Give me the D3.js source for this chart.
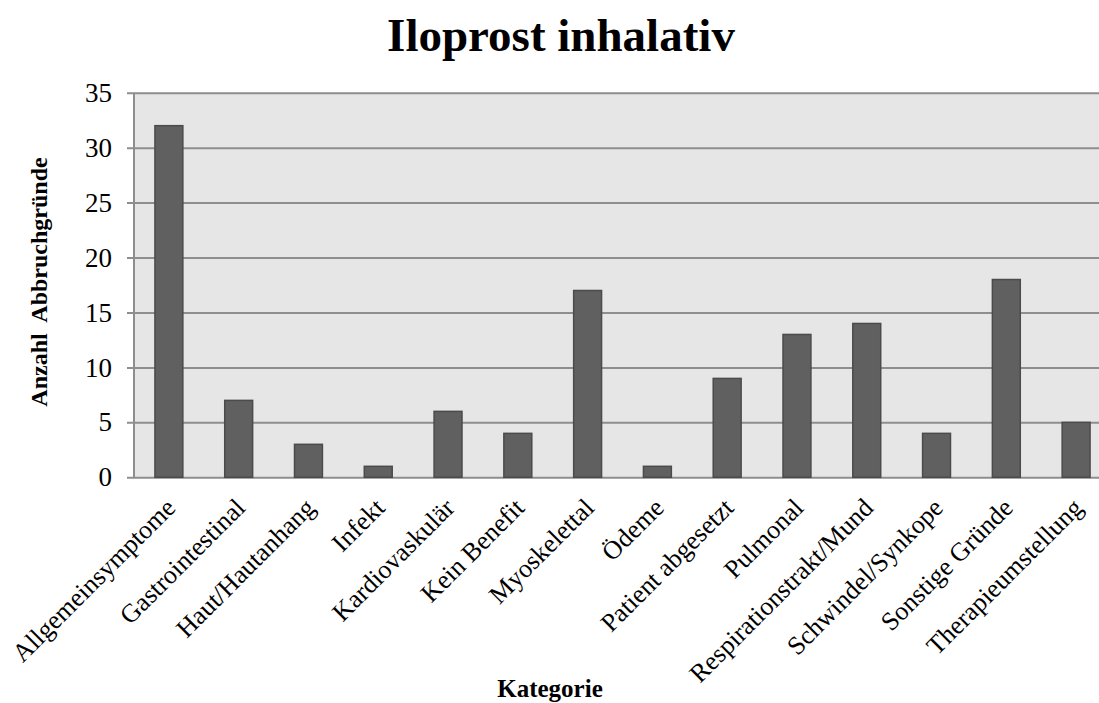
<!DOCTYPE html>
<html>
<head>
<meta charset="utf-8">
<script src="https://cdn.jsdelivr.net/npm/d3@7"></script>
<style>
  html, body { margin: 0; padding: 0; background: #ffffff; }
  svg { display: block; font-family: "Liberation Serif", "Times New Roman", serif; }
</style>
</head>
<body>
<svg id="chart" width="1099" height="703"></svg>
<script>
// Chart data
const categories = [
  "Allgemeinsymptome", "Gastrointestinal", "Haut/Hautanhang", "Infekt",
  "Kardiovaskulär", "Kein Benefit", "Myoskelettal", "Ödeme",
  "Patient abgesetzt", "Pulmonal", "Respirationstrakt/Mund",
  "Schwindel/Synkope", "Sonstige Gründe", "Therapieumstellung"
];
const counts = [32, 7, 3, 1, 6, 4, 17, 1, 9, 13, 14, 4, 18, 5];
const yTicks = [0, 5, 10, 15, 20, 25, 30, 35];

const mainTitle = "Iloprost inhalativ";
const xAxTitle = "Kategorie";
const yAxTitle = "Anzahl  Abbruchgründe";

// plot area (right edge runs past the picture, like the original)
const plot = { left: 134, right: 1111, top: 92.7, bottom: 477.3 };

const svg = d3.select("#chart");

const xScale = d3
  .scaleBand()
  .domain(categories)
  .range([plot.left, plot.right])
  .paddingInner(0.6)
  .paddingOuter(0.3);

const yScale = d3
  .scaleLinear()
  .domain([0, 35])
  .range([plot.bottom, plot.top]);

// Plot background
svg
  .append("rect")
  .attr("x", plot.left)
  .attr("y", plot.top)
  .attr("width", plot.right - plot.left)
  .attr("height", plot.bottom - plot.top)
  .attr("fill", "#e6e6e6");

// Y axis with gridlines
const yAxis = d3
  .axisLeft(yScale)
  .tickValues(yTicks)
  .tickSizeInner(-(plot.right - plot.left))
  .tickSizeOuter(0)
  .tickPadding(22);

const yG = svg
  .append("g")
  .attr("transform", `translate(${plot.left}, 0)`)
  .call(yAxis);

yG.select(".domain").remove();
yG.selectAll(".tick line")
  .attr("x1", -7)
  .attr("stroke", "#8e8e8e")
  .attr("stroke-width", 2);
yG.selectAll(".tick text")
  .attr("font-size", 27)
  .attr("font-family", "Liberation Serif, Times New Roman, serif")
  .attr("fill", "#000");

// Left axis line
svg
  .append("line")
  .attr("x1", plot.left)
  .attr("x2", plot.left)
  .attr("y1", plot.top)
  .attr("y2", plot.bottom)
  .attr("stroke", "#8e8e8e")
  .attr("stroke-width", 2);

// Bars
svg
  .selectAll("rect.bar")
  .data(counts)
  .enter()
  .append("rect")
  .attr("class", "bar")
  .attr("x", (d, i) => xScale(categories[i]))
  .attr("y", (d) => yScale(d))
  .attr("width", xScale.bandwidth())
  .attr("height", (d) => yScale(0) - yScale(d))
  .attr("fill", "#606060")
  .attr("stroke", "#4b4b4b")
  .attr("stroke-width", 1.5);

// Category labels (rotated)
svg
  .selectAll("text.cat")
  .data(categories)
  .enter()
  .append("text")
  .attr("class", "cat")
  .attr("transform", (d) => `translate(${xScale(d) + xScale.bandwidth() / 2 + 8}, ${plot.bottom + 32}) rotate(-45)`)
  .attr("text-anchor", "end")
  .attr("font-size", 26)
  .attr("fill", "#000")
  .text((d) => d);

// Title
svg
  .append("text")
  .attr("x", 561)
  .attr("y", 51)
  .attr("text-anchor", "middle")
  .attr("font-size", 47)
  .attr("font-weight", "bold")
  .text(mainTitle);

// X axis title
svg
  .append("text")
  .attr("x", 550)
  .attr("y", 697)
  .attr("text-anchor", "middle")
  .attr("font-size", 25)
  .attr("font-weight", "bold")
  .text(xAxTitle);

// Y axis title
svg
  .append("text")
  .attr("transform", "rotate(-90)")
  .attr("x", -282)
  .attr("y", 47)
  .attr("text-anchor", "middle")
  .attr("font-size", 24)
  .attr("font-weight", "bold")
  .style("white-space", "pre")
  .text(yAxTitle);
</script>
</body>
</html>
